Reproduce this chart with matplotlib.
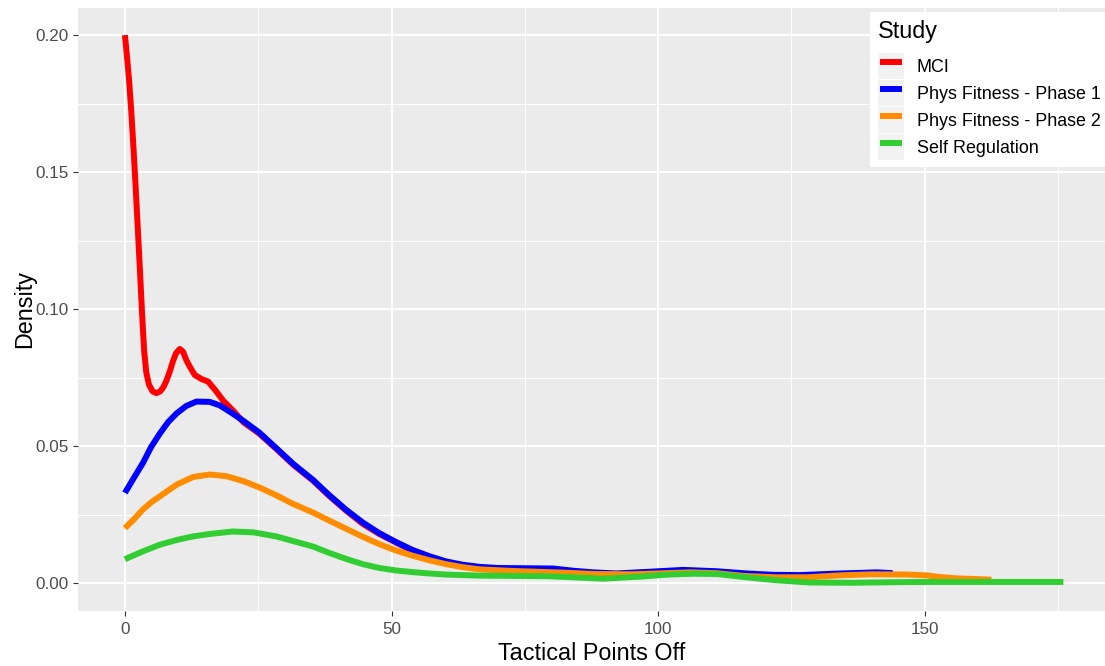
import numpy as np
import matplotlib as mpl
mpl.use('Agg')
from matplotlib import pyplot as plt
from matplotlib.lines import Line2D
from matplotlib.patches import Rectangle
from matplotlib.legend_handler import HandlerLine2D, HandlerTuple

#------------------ font sizes ----------------------
plt.rcParams['font.family'] = ['Liberation Sans', 'DejaVu Sans']
TICK = 12.3
LEGTXT = 12.9
TTL = 16.8

#------------------ data -----------------------------------------------
studies = ['MCI', 'Phys Fitness - Phase 1', 'Phys Fitness - Phase 2', 'Self Regulation']
colors = ['#FF0000', '#0000FF', '#FF8C00', '#32CD32']

mci_x = [0, 0.4, 0.8, 1.2, 1.6, 2.0, 2.4, 2.8, 3.2, 3.6, 4.0, 4.5, 5.2, 5.9, 6.6, 7.2, 7.8, 8.4,
         9.0, 9.6, 10.3, 10.9, 11.5, 12.2, 13.1, 14.4, 15.6, 16.9, 18.4, 20.3, 22.2, 25.2, 28.4,
         31.6, 35.3, 38.3, 41.5, 44.6, 47.7, 50.8, 53.9, 57.1, 60.2, 63.3, 66.5, 72.8, 80.3,
         87.8, 92.2, 97.2, 104.7, 111, 116.6, 121.6, 125]
mci_y = [0.200, 0.192, 0.183, 0.172, 0.159, 0.145, 0.130, 0.115, 0.099, 0.085, 0.077, 0.0725,
         0.0700, 0.0694, 0.0700, 0.0715, 0.0740, 0.0772, 0.0810, 0.0840, 0.0855, 0.0845, 0.0815,
         0.0789, 0.0760, 0.0745, 0.0736, 0.0706, 0.0667, 0.0630, 0.0588, 0.0546, 0.0490, 0.0432,
         0.0374, 0.0319, 0.0265, 0.0217, 0.0180, 0.0149, 0.0119, 0.0095, 0.0077, 0.0065, 0.0057,
         0.0052, 0.0051, 0.0036, 0.0033, 0.0039, 0.0046, 0.0041, 0.0033, 0.0028, 0.0027]

pf1_x = [0, 1.9, 3.4, 4.9, 6.6, 8.1, 9.7, 11.5, 13.4, 15.9, 17.8, 20, 22.2, 25.2, 28.4, 31.6,
         35.3, 38.3, 41.5, 44.6, 47.7, 50.8, 53.9, 57.1, 60.2, 63.3, 66.5, 70, 75, 80.3, 84, 87.8,
         92.2, 97.2, 104.7, 111, 116.6, 121.6, 126.6, 132.8, 141, 144]
pf1_y = [0.033, 0.0392, 0.0440, 0.0497, 0.0548, 0.0588, 0.0620, 0.0647, 0.0663, 0.0662, 0.0649,
         0.0622, 0.0593, 0.0550, 0.0493, 0.0435, 0.0377, 0.0322, 0.0268, 0.0222, 0.0183, 0.0151,
         0.0122, 0.0099, 0.0080, 0.0068, 0.0060, 0.0056, 0.0055, 0.0054, 0.0046, 0.0040, 0.0036,
         0.0041, 0.0049, 0.0044, 0.0036, 0.0031, 0.0030, 0.0035, 0.0040, 0.0037]

pf2_x = [0, 1.9, 3.3, 4.9, 6.6, 9.7, 12.8, 15.9, 19.0, 22.2, 25.3, 28.4, 31.4, 35.3, 38.3, 41.5,
         44.6, 47.7, 50.8, 53.9, 57.1, 60.2, 63.3, 66.5, 72.8, 82.2, 88, 95, 100, 106, 111, 116,
         122, 128, 134, 140, 146.6, 150.3, 152.8, 156, 160.3, 162.5]
pf2_y = [0.0201, 0.0238, 0.0268, 0.0295, 0.0318, 0.0360, 0.0388, 0.0397, 0.0391, 0.0373, 0.0349,
         0.0321, 0.0291, 0.0258, 0.0229, 0.0199, 0.0170, 0.0143, 0.0120, 0.0101, 0.0084, 0.0070,
         0.0059, 0.0051, 0.0045, 0.0039, 0.0034, 0.0033, 0.0036, 0.0040, 0.0037, 0.0027, 0.0022,
         0.0022, 0.0029, 0.0033, 0.0032, 0.0029, 0.0023, 0.0018, 0.0015, 0.0013]

sr_x = [0, 3.3, 6.4, 9.7, 12.7, 15.9, 20.2, 24.1, 28.4, 31.4, 35.3, 38.3, 41.5, 44.6, 47.7, 50.8,
        53.9, 57.0, 60.2, 66.5, 79, 84, 89.7, 97.2, 102, 106.6, 111, 116, 122.2, 128.4, 136.5,
        144, 150, 160, 176]
sr_y = [0.0088, 0.0116, 0.0140, 0.0158, 0.0171, 0.0180, 0.0189, 0.0186, 0.0171, 0.0155, 0.0134,
        0.0111, 0.0089, 0.0070, 0.0056, 0.0047, 0.0041, 0.0036, 0.0032, 0.0028, 0.0026, 0.0022,
        0.0017, 0.0025, 0.0032, 0.0035, 0.0034, 0.0023, 0.0011, 0.0003, 0.0002, 0.0004, 0.0005,
        0.0005, 0.0005]

xs = [mci_x, pf1_x, pf2_x, sr_x]
ys = [mci_y, pf1_y, pf2_y, sr_y]

xticks = [0, 50, 100, 150]
yticks = [0.00, 0.05, 0.10, 0.15, 0.20]

#--------------------- PLOT ------------------------
fig = plt.figure(figsize=(11.05, 6.66), dpi=100)
axe = fig.add_axes([78/1105, 1-611/666, 1-78/1105, (611-8)/666])
axe.set_facecolor('#EBEBEB')
for s in axe.spines.values():
    s.set_visible(False)

for x, y, c in zip(xs, ys, colors):
    axe.plot(x, y, color=c, linewidth=4.3, solid_capstyle='butt', solid_joinstyle='round')

axe.set_xlim(-8.8, 183.8)
axe.set_ylim(-0.0101, 0.2099)
axe.set_xticks(xticks)
axe.set_yticks(yticks)
axe.set_yticklabels(['%.2f' % v for v in yticks])
axe.set_xticks([25, 75, 125, 175], minor=True)
axe.set_yticks([0.025, 0.075, 0.125, 0.175], minor=True)
axe.grid(which='major', color='white', linewidth=1.4)
axe.grid(which='minor', color='white', linewidth=0.7)
axe.set_axisbelow(True)
axe.tick_params(which='major', length=3.5, width=0.8, color='#333333',
                labelcolor='#4D4D4D', labelsize=TICK, pad=3)
axe.tick_params(axis='x', which='major', pad=4.5)
axe.tick_params(which='minor', length=0)

axe.set_xlabel('Tactical Points Off', fontsize=TTL, labelpad=3.5)
axe.set_ylabel('Density', fontsize=TTL, labelpad=0)

# legend with grey key backgrounds like ggplot
handles = []
for c in colors:
    key = Rectangle((0, 0), 1, 1, facecolor='#F2F2F2', edgecolor='none')
    ln = Line2D([0, 1], [0, 0], color=c, linewidth=4.3, solid_capstyle='butt')
    handles.append((key, ln))
leg = fig.legend(handles, studies, loc='upper right', bbox_to_anchor=(1108/1105, 1-12/666),
                 title='Study', title_fontsize=TTL, fontsize=LEGTXT, alignment='left',
                 frameon=True, fancybox=False, framealpha=1, facecolor='white',
                 edgecolor='none', borderpad=0.42, borderaxespad=0, labelspacing=0.05,
                 handlelength=1.45, handleheight=1.86, handletextpad=0.72,
                 handler_map={tuple: HandlerTuple(ndivide=1, pad=0),
                              Line2D: HandlerLine2D(marker_pad=0.11, numpoints=2)})
leg._legend_box.sep = 7.5  # gap below the title, in points

plt.savefig('out.png', dpi=100)
